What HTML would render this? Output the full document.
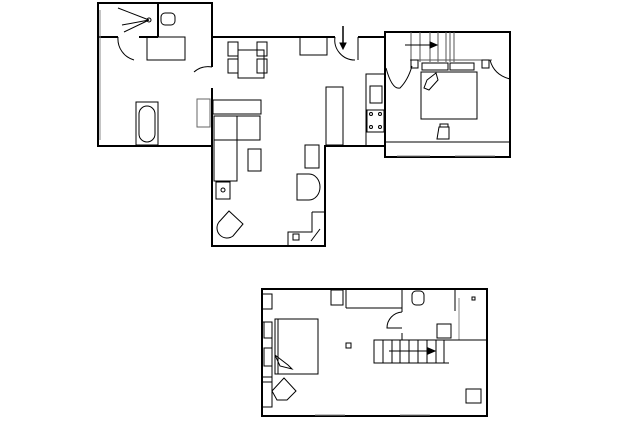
<!DOCTYPE html>
<html><head><style>body{margin:0;background:#fff}svg{display:block}</style></head><body>
<svg width="638" height="425" viewBox="0 0 638 425" xmlns="http://www.w3.org/2000/svg" fill="none" stroke="#000" stroke-width="1">
<g stroke-width="2">
<polyline points="212,67 212,3 98,3 98,146 212,146"/>
<line x1="98" y1="37" x2="118" y2="37"/>
<line x1="139" y1="37" x2="158" y2="37"/>
<line x1="158" y1="3" x2="158" y2="37"/>
<line x1="212" y1="37" x2="335" y2="37"/>
<line x1="358" y1="37" x2="385" y2="37"/>
<polyline points="212,88 212,246 325,246 325,146 385,146"/>
<rect x="385" y="32" width="125" height="125"/>
<rect x="262" y="289" width="225" height="127"/>
</g>
<g stroke-width="1">
<line x1="100" y1="10" x2="100" y2="140" stroke="#888"/>
<path d="M149,20 L118,8 M149,20 L122,25 M149,20 L124,32" />
<circle cx="149" cy="20" r="2"/>
<rect x="161" y="13" width="14" height="12" rx="4"/>
<rect x="147" y="37" width="38" height="23"/>
<path d="M118,37 A22,22 0 0 0 134,60"/>
<rect x="136" y="102" width="22" height="43"/>
<rect x="139" y="106" width="16" height="36" rx="8"/>
<path d="M212,67 A21,21 0 0 0 194,72"/>
<rect x="238" y="50" width="26" height="28"/>
<rect x="228" y="42" width="10" height="14"/><rect x="228" y="59" width="10" height="14"/>
<rect x="257" y="42" width="10" height="14"/><rect x="257" y="59" width="10" height="14"/>
<rect x="300" y="37" width="27" height="18"/>
<path d="M335,37 A20,20 0 0 0 355,60 M358,37 L358,60"/>
<line x1="343" y1="26" x2="343" y2="48" stroke-width="1.5"/>
<path d="M340,43 L343,49 L346,43 Z" fill="#000"/>
<rect x="197" y="99" width="13" height="28" stroke="#666"/>
<rect x="213" y="100" width="48" height="14"/>
<rect x="214" y="116" width="46" height="24"/>
<rect x="214" y="116" width="23" height="65"/>
<rect x="248" y="149" width="13" height="22"/>
<rect x="216" y="182" width="14" height="17"/>
<circle cx="223" cy="190" r="2"/>
<rect x="326" y="87" width="17" height="58"/>
<rect x="305" y="145" width="14" height="23"/>
<path d="M297,174 h12 a11,13 0 0 1 0,26 h-12 z"/>
<path d="M219,222 l10,-11 l14,13 l-10,12 a10,10 0 0 1 -14,-14z"/>
<path d="M312,212 h13 M312,212 v20 h-24 v14"/>
<rect x="293" y="234" width="6" height="6"/>
<line x1="311" y1="241" x2="320" y2="229"/>
<rect x="366" y="74" width="19" height="72"/>
<rect x="370" y="86" width="12" height="17"/>
<rect x="367" y="110" width="17" height="22"/>
<circle cx="371" cy="114" r="1.5"/><circle cx="380" cy="114" r="1.5"/><circle cx="371" cy="127" r="1.5"/><circle cx="380" cy="127" r="1.5"/>
<path d="M411,32 v30 M420,32 v30 M430,32 v30 M438,32 v30 M446,32 v30 M450,32 v30 M454,32 v30" stroke="#555"/>
<line x1="405" y1="45" x2="434" y2="45"/>
<path d="M430,42 L437,45 L430,48 Z" fill="#000"/>
<line x1="410" y1="60" x2="492" y2="60" stroke="#555"/>
<rect x="421" y="72" width="56" height="47"/>
<rect x="422" y="63" width="26" height="7"/><rect x="450" y="63" width="24" height="7"/>
<rect x="411" y="60" width="7" height="8"/><rect x="482" y="60" width="7" height="8"/>
<path d="M436,73 l-9,7 l-3,8 l5,2 l9,-10z"/>
<path d="M386,68 q6,22 14,20 q8,-8 12,-22"/>
<path d="M490,60 q4,15 20,19 M510,60 v19"/>
<path d="M439,127 h10 v12 h-12z M440,127 v-3 h8 v3"/>
<line x1="385" y1="142" x2="510" y2="142"/>
<line x1="397" y1="156" x2="430" y2="156" stroke="#888"/>
<line x1="455" y1="156" x2="495" y2="156" stroke="#888"/>
<rect x="262" y="294" width="10" height="15"/>
<rect x="262" y="322" width="10" height="60" />
<rect x="264" y="322" width="8" height="16"/><rect x="264" y="348" width="8" height="18"/>
<rect x="262" y="377" width="10" height="30"/>
<rect x="275" y="319" width="43" height="55"/>
<line x1="278" y1="319" x2="278" y2="374"/>
<path d="M275,355 l13,10 l4,4 l-12,-3z"/>
<path d="M277,400 l-5,-9 l12,-13 l12,13 l-9,9z"/>
<rect x="331" y="290" width="12" height="15"/>
<line x1="346" y1="289" x2="346" y2="308"/><line x1="346" y1="308" x2="402" y2="308"/>
<line x1="402" y1="289" x2="402" y2="312"/><line x1="402" y1="333" x2="402" y2="340"/>
<path d="M402,312 a16,16 0 0 0 -15,16 h15"/>
<rect x="412" y="291" width="12" height="14" rx="4"/>
<line x1="455" y1="289" x2="455" y2="311"/>
<rect x="437" y="324" width="14" height="14"/>
<rect x="472" y="297" width="3" height="3"/>
<rect x="346" y="343" width="5" height="5"/>
<line x1="459" y1="298" x2="459" y2="340" stroke="#888"/>
<line x1="402" y1="340" x2="487" y2="340"/>
<rect x="374" y="340" width="70" height="23"/>
<path d="M383,340 v23 M392,340 v23 M400,340 v23 M409,340 v23 M418,340 v23 M427,340 v23 M436,340 v23"/>
<line x1="444" y1="363" x2="449" y2="363"/>
<line x1="389" y1="351" x2="432" y2="351"/>
<path d="M428,348 L435,351 L428,354 Z" fill="#000"/>
<rect x="466" y="389" width="15" height="14"/>
<line x1="315" y1="415" x2="345" y2="415" stroke="#888"/>
<line x1="400" y1="415" x2="430" y2="415" stroke="#888"/>
</g>
</svg>
</body></html>
